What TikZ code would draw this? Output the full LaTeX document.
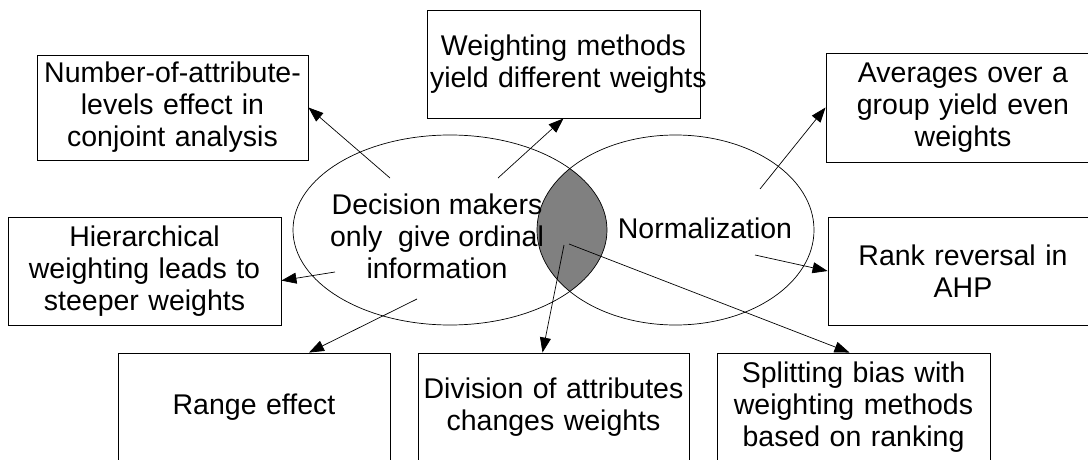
\documentclass[tikz,border=0pt]{standalone}
\usepackage{fontspec}
\setmainfont{Liberation Sans}
\usetikzlibrary{arrows.meta,shapes.geometric}
\definecolor{lensgray}{HTML}{808080}
\begin{document}
\begin{tikzpicture}[x=1pt, y=-1pt, >={Triangle[length=15pt,width=11pt]},
  every node/.style={font=\fontsize{28.5}{32}\selectfont},
  box/.style={draw, line width=0.9pt, inner xsep=3pt, inner ysep=0pt, align=center},
  oval/.style={draw, ellipse, line width=0.7pt, inner sep=0pt},
  lbl/.style={align=center, inner sep=0pt},
  link/.style={->, line width=0.7pt}]
\useasboundingbox (0,0) rectangle (1088,460);
\clip (0,0) rectangle (1088,460);
% overlap of the two ovals
\begin{scope}
\clip (450,230) ellipse [x radius=157, y radius=95];
\fill[lensgray] (675.5,230) ellipse [x radius=138.5, y radius=95];
\end{scope}
\node[oval, minimum width=314pt, minimum height=190pt] (dm) at (450,230) {};
\node[oval, minimum width=277pt, minimum height=190pt] (norm) at (675.5,230) {};
\node[lbl] (dmtext) at (437,236) {Decision makers\\only\ \ give ordinal\\information};
\node[lbl] (normtext) at (705,228) {Normalization};
% boxes
\node[box, text width=265pt, minimum height=105pt] (num) at (172.5,107.5) {Number-of-attribute-\\levels effect in\\conjoint analysis};
\node[box, text width=267pt, minimum height=108pt] (wmeth) at (563.5,64) {Weighting methods\\\mbox{yield different weights}};
\node[box, text width=268pt, minimum height=109pt] (avg) at (963,107.5) {Averages over a\\group yield even\\weights};
\node[box, text width=267pt, minimum height=108pt] (hier) at (144.5,271) {Hierarchical\\weighting leads to\\steeper weights};
\node[box, text width=264pt, minimum height=108pt] (rank) at (963,271) {Rank reversal in\\AHP};
\node[box, text width=266pt, minimum height=108pt] (range) at (254,407) {Range effect};
\node[box, text width=265pt, minimum height=108pt] (div) at (553.5,407) {\mbox{Division of attributes}\\changes weights};
\node[box, text width=267pt, minimum height=108pt] (split) at (853.5,407) {Splitting bias with\\weighting methods\\based on ranking};
% arrow starts
\coordinate (dmA) at (390,178);
\coordinate (dmB) at (498,178);
\coordinate (dmC) at (335,272);
\coordinate (dmD) at (417,299);
\coordinate (normA) at (760,189);
\coordinate (normB) at (755,255);
\coordinate (lensA) at (564,245);
\coordinate (lensB) at (569,244);
\draw[link] (dmA) -- (num.east);
\draw[link] (dmB) -- (wmeth.south);
\draw[link] (normA) -- (avg.west);
\draw[link] (dmC) -- (hier.-4.6);
\draw[link] (normB) -- (rank.west);
\draw[link] (dmD) -- ([xshift=55pt]range.north);
\draw[link] (lensA) -- ([xshift=-11pt]div.north);
\draw[link] (lensB) -- ([xshift=-4pt]split.north);
\end{tikzpicture}
\end{document}
